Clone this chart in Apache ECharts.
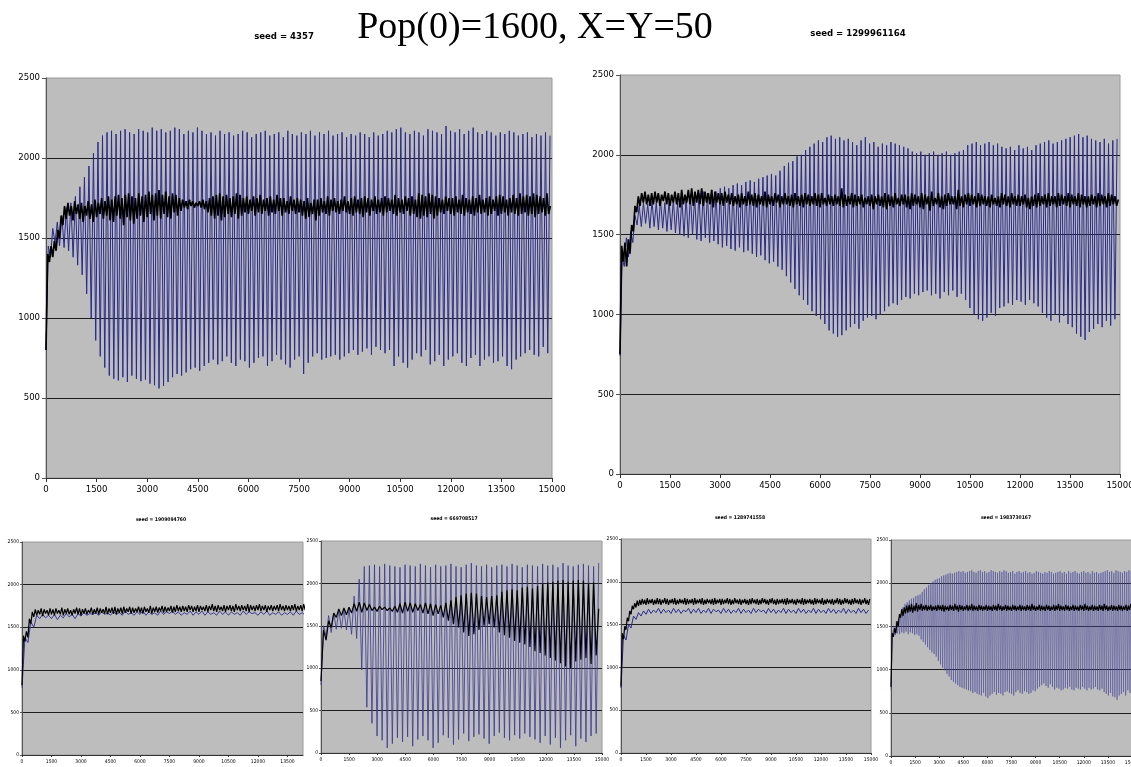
<!DOCTYPE html>
<html><head><meta charset="utf-8">
<script src="https://cdn.jsdelivr.net/npm/echarts@6/dist/echarts.min.js"></script>
<style>html,body{margin:0;padding:0;background:#fff}#c{width:1131px;height:767px}</style>
</head><body><div id="c"></div>
<script>
// ---------- text ----------
const mainTitle = 'Pop(0)=1600, X=Y=50';
const seedLabels = ['seed = 4357','seed = 1299961164','seed = 1909094760','seed = 669708517','seed = 1289741558','seed = 1983730167'];
const xTickStep = 1500, yTickStep = 500, yMax = 2500, xMax = 15000;

// ---------- top-left (seed 4357) ----------
const tlBlueStep = 67;
const tlBlueLo = [800,1380,1470,1450,1440,1420,1380,1330,1270,1150,1000,860,760,690,640,620,
610,630,600,640,620,605,615,590,580,560,575,600,630,650,640,660,
680,690,670,700,720,740,710,730,760,720,700,740,730,690,720,750,
760,700,730,770,740,710,690,740,760,650,720,760,780,740,750,760,
770,740,760,780,800,770,790,810,770,820,800,780,800,700,760,720,
690,740,780,760,800,710,730,770,700,740,760,780,720,700,750,770,
700,740,760,720,730,760,700,680,740,760,780,800,770,760,820,780];
const tlBlueHi = [1450,1560,1600,1640,1690,1720,1760,1820,1880,1950,2030,2100,2140,2160,2170,2150,
2170,2180,2160,2150,2180,2170,2160,2190,2170,2180,2160,2170,2190,2180,2150,2170,
2160,2190,2170,2150,2160,2140,2170,2150,2160,2140,2150,2170,2160,2130,2150,2160,
2170,2140,2150,2160,2130,2170,2150,2140,2160,2150,2170,2140,2160,2150,2170,2140,
2150,2160,2130,2150,2140,2160,2150,2130,2160,2140,2150,2170,2160,2180,2190,2160,
2150,2170,2160,2140,2180,2170,2160,2150,2200,2170,2160,2180,2150,2170,2190,2160,
2150,2170,2160,2140,2160,2150,2170,2160,2140,2150,2160,2130,2150,2140,2160,2140];
const tlBlackStep = 50;
const tlBlack = [800,1400,1350,1450,1380,1480,1420,1550,1500,1640,
1580,1700,1620,1720,1640,1700,1610,1730,1650,1710,
1620,1720,1600,1700,1640,1730,1620,1710,1600,1740,
1630,1720,1650,1750,1620,1730,1640,1760,1610,1740,
1600,1760,1640,1770,1620,1750,1580,1770,1630,1780,
1610,1760,1590,1750,1620,1780,1640,1760,1600,1770,
1630,1790,1650,1770,1610,1780,1640,1800,1620,1770,
1650,1790,1630,1760,1620,1780,1660,1770,1640,1750,
1670,1740,1690,1730,1680,1740,1700,1730,1690,1720,
1700,1730,1690,1740,1680,1730,1660,1750,1640,1760,
1620,1770,1640,1780,1610,1760,1630,1770,1650,1750,
1630,1760,1650,1780,1620,1770,1640,1750,1660,1760,
1650,1740,1670,1760,1640,1750,1660,1770,1650,1740,
1670,1750,1640,1760,1660,1740,1650,1770,1670,1750,
1640,1750,1660,1730,1650,1760,1670,1740,1650,1750,
1660,1740,1640,1730,1620,1750,1630,1720,1650,1740,
1610,1740,1640,1750,1660,1730,1650,1760,1640,1740,
1670,1750,1660,1730,1650,1740,1670,1760,1660,1730,
1650,1750,1640,1760,1660,1740,1650,1750,1630,1760,
1660,1750,1640,1740,1670,1760,1650,1740,1660,1750,
1640,1760,1660,1750,1670,1740,1650,1770,1640,1750,
1660,1740,1650,1760,1670,1750,1640,1760,1650,1740,
1630,1780,1620,1770,1640,1760,1630,1780,1650,1770,
1620,1760,1640,1750,1660,1740,1650,1760,1670,1750,
1650,1750,1640,1760,1660,1740,1650,1770,1640,1750,
1660,1740,1650,1760,1640,1750,1660,1770,1650,1740,
1660,1750,1640,1760,1650,1740,1670,1760,1640,1770,
1650,1760,1660,1740,1640,1750,1660,1770,1650,1750,
1640,1780,1650,1760,1660,1770,1640,1760,1650,1780,
1630,1770,1650,1760,1660,1750,1640,1780,1650,1700];

// ---------- top-right (seed 1299961164) ----------
const trBlueStep = 64;
const trBlueLo = [740,1300,1360,1450,1560,1550,1570,1540,1550,1530,
1540,1520,1530,1510,1500,1490,1480,1500,1470,1460,
1480,1450,1460,1440,1420,1430,1410,1400,1420,1390,
1400,1380,1360,1370,1340,1320,1330,1300,1280,1240,
1200,1160,1120,1090,1060,1020,990,970,940,900,
880,860,870,900,920,940,910,960,980,990,
970,1000,1020,1050,1070,1060,1090,1110,1100,1130,
1120,1140,1150,1120,1130,1100,1140,1120,1150,1110,
1130,1090,1040,1000,970,960,980,1010,990,1040,
1050,1070,1060,1090,1080,1060,1090,1070,1050,1010,
980,960,1000,950,990,940,920,880,860,840,
890,910,940,920,960,930,970];
const trBlueHi = [1350,1480,1520,1620,1680,1700,1690,1710,1700,1720,
1700,1710,1720,1700,1730,1740,1750,1740,1760,1770,
1760,1780,1770,1790,1800,1790,1810,1820,1810,1830,
1840,1830,1850,1860,1870,1880,1870,1900,1930,1950,
1960,1990,2000,2030,2050,2070,2090,2080,2110,2120,
2100,2110,2090,2100,2080,2060,2090,2110,2070,2080,
2050,2070,2060,2080,2070,2060,2050,2040,2020,2010,
2020,2000,2010,2020,2000,2010,2020,2000,2010,2020,
2030,2060,2070,2080,2060,2070,2080,2060,2070,2050,
2040,2050,2030,2060,2040,2050,2030,2060,2070,2080,
2090,2070,2080,2090,2100,2110,2120,2130,2110,2120,
2100,2090,2080,2100,2070,2090,2100];
const trBlackStep = 50;
const trBlack = [750,1430,1330,1450,1300,1470,1380,1560,1520,1680,
1640,1740,1680,1760,1700,1770,1690,1750,1680,1760,
1690,1770,1700,1760,1680,1750,1710,1770,1690,1760,
1680,1750,1700,1770,1690,1760,1670,1780,1690,1750,
1700,1780,1690,1790,1680,1770,1700,1780,1690,1790,
1680,1770,1700,1760,1690,1780,1670,1770,1700,1760,
1690,1760,1680,1770,1700,1750,1690,1760,1680,1740,
1690,1750,1670,1760,1690,1740,1680,1770,1690,1750,
1680,1760,1670,1750,1690,1740,1680,1770,1670,1750,
1690,1740,1680,1760,1700,1750,1670,1740,1690,1760,
1690,1740,1680,1750,1670,1760,1690,1740,1680,1750,
1670,1760,1690,1750,1680,1740,1690,1760,1680,1750,
1670,1760,1690,1730,1680,1750,1690,1740,1680,1750,
1690,1740,1680,1790,1670,1750,1680,1740,1690,1760,
1670,1750,1680,1740,1690,1750,1670,1730,1690,1740,
1680,1750,1660,1740,1690,1750,1680,1740,1670,1760,
1660,1750,1680,1740,1670,1760,1690,1730,1680,1750,
1690,1750,1670,1740,1660,1760,1680,1750,1690,1740,
1670,1760,1660,1750,1690,1740,1650,1770,1680,1730,
1690,1760,1670,1740,1660,1750,1680,1760,1690,1740,
1690,1740,1660,1780,1680,1740,1670,1750,1690,1760,
1680,1750,1690,1740,1670,1760,1680,1750,1690,1740,
1680,1740,1670,1750,1690,1730,1680,1740,1670,1760,
1690,1750,1680,1740,1670,1760,1690,1740,1680,1750,
1680,1740,1690,1750,1670,1730,1660,1740,1680,1750,
1670,1760,1680,1740,1690,1750,1670,1760,1680,1740,
1690,1740,1670,1760,1680,1750,1690,1740,1680,1760,
1670,1750,1690,1740,1680,1760,1670,1750,1690,1740,
1670,1740,1680,1750,1690,1740,1670,1760,1680,1750,
1690,1740,1670,1760,1680,1750,1690,1740,1680,1720];

// ---------- bottom 1 (seed 1909094760) ----------
const b1BlueStep = 150;
const b1Blue = [790,1380,1320,1560,1500,1640,1600,1650,1610,1640,
1600,1650,1590,1640,1610,1660,1620,1650,1600,1660,
1630,1670,1640,1660,1650,1670,1640,1680,1650,1670,
1640,1680,1650,1670,1640,1690,1650,1670,1640,1680,
1650,1690,1640,1680,1650,1670,1640,1690,1650,1680,
1660,1690,1650,1680,1640,1670,1650,1690,1640,1680,
1650,1690,1640,1680,1650,1670,1640,1690,1650,1680,
1640,1680,1650,1670,1640,1690,1650,1680,1660,1670,
1640,1680,1650,1690,1640,1670,1650,1680,1640,1670,
1650,1680,1640,1690,1650,1670,1640,1680,1650,1670];
const b1BlackStep = 75;
const b1Black = [820,1400,1330,1450,1380,1600,1540,1680,1620,1710,
1640,1700,1650,1720,1630,1710,1660,1700,1640,1720,
1650,1710,1640,1720,1660,1700,1650,1730,1640,1710,
1660,1720,1650,1700,1640,1710,1660,1730,1650,1720,
1640,1710,1660,1720,1650,1700,1670,1730,1650,1710,
1660,1730,1650,1720,1670,1710,1660,1740,1650,1720,
1670,1730,1660,1740,1650,1720,1670,1730,1660,1740,
1670,1720,1680,1740,1660,1730,1670,1720,1680,1740,
1670,1730,1660,1740,1680,1720,1670,1750,1660,1730,
1680,1740,1670,1730,1690,1750,1670,1740,1680,1730,
1690,1750,1670,1740,1680,1760,1690,1740,1680,1750,
1690,1740,1680,1760,1700,1750,1680,1740,1690,1760,
1680,1750,1700,1740,1690,1760,1680,1750,1700,1770,
1690,1750,1680,1760,1700,1740,1690,1760,1680,1750,
1700,1760,1690,1750,1680,1770,1700,1750,1690,1760,
1700,1750,1690,1770,1680,1760,1700,1750,1690,1760,
1700,1770,1690,1750,1700,1760,1680,1750,1700,1760,
1690,1750,1700,1760,1690,1770,1700,1750,1690,1760,
1700,1750,1690,1760,1700,1770,1690,1750,1700,1760,
1690,1770,1700,1750,1690,1760,1700,1770,1690,1780];

// ---------- bottom 2 (seed 669708517) ----------
const b2Step = 136;
const b2BlueLo = [800,1380,1420,1460,1470,1450,1400,1350,980,540,
350,200,150,60,110,180,130,190,80,160,
200,150,60,120,210,180,100,160,230,140,
190,220,170,110,200,240,180,150,210,170,
230,190,160,120,200,100,180,60,150,210,
80,170,130,200,230];
const b2BlueHi = [1500,1620,1650,1680,1690,1700,1850,2050,2200,2210,
2220,2200,2230,2210,2200,2190,2220,2210,2200,2230,
2210,2190,2220,2200,2210,2230,2200,2190,2220,2240,
2210,2200,2220,2190,2210,2220,2200,2230,2210,2190,
2220,2210,2200,2230,2210,2220,2190,2240,2210,2200,
2220,2230,2210,2200,2240];
const b2Black = [850,1450,1330,1560,1480,1650,1600,1700,1620,1710,
1630,1720,1650,1760,1670,1780,1660,1770,1680,1750,
1680,1720,1670,1730,1690,1720,1680,1710,1670,1730,
1660,1760,1650,1780,1670,1770,1660,1760,1680,1750,
1650,1770,1640,1760,1620,1750,1640,1740,1600,1770,
1560,1800,1520,1840,1480,1860,1420,1880,1380,1890,
1400,1880,1450,1850,1500,1840,1520,1850,1480,1860,
1420,1900,1390,1920,1360,1930,1320,1920,1300,1950,
1280,1960,1250,1940,1200,1970,1180,2000,1150,2010,
1120,2020,1090,2030,1060,2040,1020,2020,1000,2030,
1080,2040,1100,2030,1120,2000,1050,2010,1150,1700];

// ---------- bottom 3 (seed 1289741558) ----------
const b3BlueStep = 150;
const b3Blue = [760,1380,1320,1500,1460,1600,1560,1640,1600,1660,
1620,1680,1630,1670,1640,1690,1630,1680,1640,1670,
1630,1690,1640,1680,1630,1670,1650,1690,1630,1680,
1640,1690,1630,1670,1640,1690,1630,1680,1650,1670,
1630,1690,1640,1680,1630,1670,1640,1690,1630,1680,
1640,1670,1630,1690,1640,1680,1650,1670,1630,1690,
1640,1680,1630,1670,1640,1690,1630,1680,1640,1670,
1630,1690,1640,1680,1630,1670,1640,1690,1630,1680,
1640,1670,1630,1690,1640,1680,1630,1670,1640,1690,
1630,1680,1640,1670,1630,1690,1640,1680,1630,1670];
const b3BlackStep = 75;
const b3Black = [780,1400,1330,1480,1440,1580,1540,1660,1620,1720,
1680,1750,1700,1780,1720,1790,1730,1800,1740,1790,
1730,1810,1740,1790,1750,1800,1730,1790,1740,1810,
1740,1800,1730,1790,1750,1810,1740,1800,1730,1790,
1750,1800,1740,1810,1730,1790,1740,1800,1750,1790,
1740,1810,1730,1800,1740,1790,1750,1800,1730,1810,
1740,1790,1750,1800,1740,1810,1730,1790,1740,1800,
1750,1790,1740,1800,1730,1810,1740,1790,1750,1800,
1730,1800,1740,1790,1750,1810,1740,1800,1730,1790,
1740,1810,1750,1790,1740,1800,1730,1790,1750,1800,
1740,1790,1730,1800,1740,1810,1750,1790,1740,1800,
1730,1790,1740,1810,1750,1800,1740,1790,1730,1800,
1750,1810,1740,1790,1730,1800,1740,1790,1750,1800,
1740,1800,1730,1810,1740,1790,1750,1800,1740,1790,
1730,1800,1750,1790,1740,1810,1730,1800,1740,1790,
1750,1800,1740,1790,1730,1810,1740,1800,1750,1790,
1740,1810,1730,1790,1740,1800,1750,1790,1740,1800,
1730,1790,1750,1810,1740,1800,1730,1790,1740,1810,
1750,1800,1740,1790,1730,1800,1740,1810,1750,1790,
1740,1800,1730,1790,1750,1810,1740,1790,1730,1800];

// ---------- bottom 4 (seed 1983730167) ----------
const b4BlueStep = 67;
const b4BlueLo = [760,1380,1400,1420,1410,1430,1420,1440,1410,1430,1420,1400,1410,1390,1350,1320,
1290,1260,1230,1200,1180,1150,1100,1060,1020,990,950,920,880,860,840,820,
800,790,780,770,760,750,730,740,720,710,700,730,690,670,700,720,
740,710,730,720,700,740,750,730,720,700,740,760,730,720,750,740,
720,730,760,750,780,800,820,840,810,790,830,800,770,790,780,760,
770,790,780,800,770,760,790,780,770,800,780,760,790,770,780,800,
770,760,780,740,720,700,730,690,680,650,700,720,740,700,760,730];
const b4BlueHi = [1400,1500,1560,1600,1650,1720,1760,1780,1800,1820,1830,1850,1860,1870,1900,1930,
1950,1980,2000,2020,2040,2050,2060,2080,2090,2100,2110,2120,2110,2120,2130,2140,
2130,2140,2120,2130,2140,2150,2130,2120,2140,2150,2130,2140,2120,2130,2150,2140,
2130,2120,2140,2130,2150,2140,2120,2130,2140,2110,2130,2140,2120,2130,2140,2120,
2130,2110,2120,2140,2130,2120,2110,2130,2120,2140,2130,2110,2120,2130,2140,2120,
2130,2110,2140,2120,2130,2140,2120,2110,2130,2140,2120,2130,2110,2140,2120,2130,
2110,2120,2130,2140,2150,2130,2140,2120,2150,2140,2130,2120,2140,2130,2150,2140];
const b4BlackStep = 75;
const b4Black = [800,1420,1380,1480,1420,1560,1500,1640,1600,1700,
1620,1720,1650,1740,1660,1750,1670,1760,1660,1740,
1680,1770,1670,1750,1690,1760,1680,1740,1690,1750,
1680,1740,1690,1750,1680,1730,1690,1740,1680,1750,
1690,1740,1680,1750,1670,1740,1690,1730,1680,1750,
1690,1740,1680,1760,1690,1740,1670,1750,1690,1740,
1680,1730,1690,1750,1680,1740,1690,1760,1680,1740,
1690,1730,1680,1750,1690,1740,1680,1730,1690,1750,
1680,1740,1690,1730,1680,1750,1690,1740,1680,1760,
1690,1740,1680,1730,1690,1750,1680,1740,1690,1730,
1680,1750,1690,1740,1680,1730,1690,1750,1680,1740,
1690,1730,1680,1750,1690,1740,1680,1760,1690,1740,
1680,1730,1690,1750,1680,1740,1690,1730,1680,1750,
1690,1740,1680,1730,1690,1750,1680,1740,1690,1760,
1680,1740,1690,1730,1680,1750,1690,1740,1680,1730,
1690,1750,1680,1740,1690,1730,1680,1750,1690,1740,
1680,1760,1690,1740,1680,1730,1690,1750,1680,1740,
1690,1730,1680,1750,1690,1740,1680,1760,1690,1740,
1680,1730,1690,1750,1680,1740,1690,1730,1680,1750,
1690,1740,1680,1730,1690,1750,1680,1740,1690,1760];

// ---------- helpers (pair values with their time positions) ----------
function cycles(lo, hi, step){ const d=[]; for(let i=0;i<lo.length;i++){ d.push([2*i*step, lo[i]]); d.push([(2*i+1)*step, hi[i]]); } return d; }
function seq(v, step){ return v.map((y,i)=>[i*step, y]); }

const panels = [
  {l:46,  t:78,  w:506, h:400, big:true,  xmax:xMax,  blue:cycles(tlBlueLo,tlBlueHi,tlBlueStep), black:seq(tlBlack,tlBlackStep), bc:'#2a2a8e', bo:1},
  {l:620, t:75,  w:500, h:399, big:true,  xmax:xMax,  blue:cycles(trBlueLo,trBlueHi,trBlueStep), black:seq(trBlack,trBlackStep), bc:'#2a2a8e', bo:1},
  {l:22,  t:542, w:281, h:213, big:false, xmax:14290, blue:seq(b1Blue,b1BlueStep), black:seq(b1Black,b1BlackStep), bc:'#3a3a96', bo:1},
  {l:321, t:541, w:281, h:212, big:false, xmax:xMax,  blue:cycles(b2BlueLo,b2BlueHi,b2Step), black:seq(b2Black,b2Step), bc:'#3a3a96', bo:0.8},
  {l:621, t:539, w:250, h:214, big:false, xmax:xMax,  blue:seq(b3Blue,b3BlueStep), black:seq(b3Black,b3BlackStep), bc:'#2a2a8e', bo:1},
  {l:891, t:540, w:241, h:216, big:false, xmax:xMax,  blue:cycles(b4BlueLo,b4BlueHi,b4BlueStep), black:seq(b4Black,b4BlackStep), bc:'#4a4a9c', bo:0.55}
];
const seedPos = [[284,37],[858,34],[161,520],[454,519],[740,518],[1006,518]];

const narrow = "'Liberation Sans Narrow','Arial Narrow','DejaVu Sans Condensed','Liberation Sans',sans-serif";
const plain = v => String(v);
const grids=[], xAxes=[], yAxes=[], series=[];
panels.forEach((p,i)=>{
  grids.push({left:p.l, top:p.t, width:p.w, height:p.h, show:true, backgroundColor:'#bdbdbd',
    borderColor:'#9a9a9a', borderWidth:1, containLabel:false, outerBoundsMode:'none'});
  const fs = p.big ? 9.5 : 5;
  xAxes.push({gridIndex:i, type:'value', min:0, max:p.xmax, interval:xTickStep,
    axisLine:{show:true, onZero:false, lineStyle:{color:'#333', width:1}},
    axisTick:{show:true, length:p.big?4:2, lineStyle:{color:'#333'}},
    axisLabel:{fontSize:fs, color:'#000', margin:p.big?7:4, fontFamily:narrow, formatter:plain, showMaxLabel:p.xmax===xMax},
    splitLine:{show:false}});
  yAxes.push({gridIndex:i, type:'value', min:0, max:yMax, interval:yTickStep,
    axisLine:{show:true, lineStyle:{color:'#555', width:1}},
    axisTick:{show:true, length:p.big?4:2, lineStyle:{color:'#555'}},
    axisLabel:{fontSize:fs, color:'#000', margin:p.big?6:3, fontFamily:narrow, formatter:plain},
    splitLine:{show:true, showMinLine:false, showMaxLine:false, lineStyle:{color:'#1e1e1e', width:1}}});
  series.push({type:'line', xAxisIndex:i, yAxisIndex:i, data:p.blue, showSymbol:false, symbol:'none',
    lineStyle:{color:p.bc, width:1, opacity:p.bo}, silent:true, animation:false});
  series.push({type:'line', xAxisIndex:i, yAxisIndex:i, data:p.black, showSymbol:false, symbol:'none',
    lineStyle:{color:'#000', width:p.big?1.7:1.2}, silent:true, animation:false});
});

const graphics = [{type:'text', x:535, y:28, style:{text:mainTitle, fontFamily:"'Liberation Serif','Times New Roman',serif",
  fontSize:38, fill:'#000', textAlign:'center', textVerticalAlign:'middle'}}];
seedLabels.forEach((s,i)=>{
  graphics.push({type:'text', x:seedPos[i][0], y:seedPos[i][1], style:{text:s, fontFamily:narrow, fontWeight:'bold',
    fontSize:i<2?9.5:5, fill:'#000', textAlign:'center', textVerticalAlign:'middle'}});
});

const chart = echarts.init(document.getElementById('c'), null, {renderer:'canvas'});
chart.setOption({animation:false, backgroundColor:'#fff', grid:grids, xAxis:xAxes, yAxis:yAxes, series:series, graphic:graphics});
</script></body></html>
